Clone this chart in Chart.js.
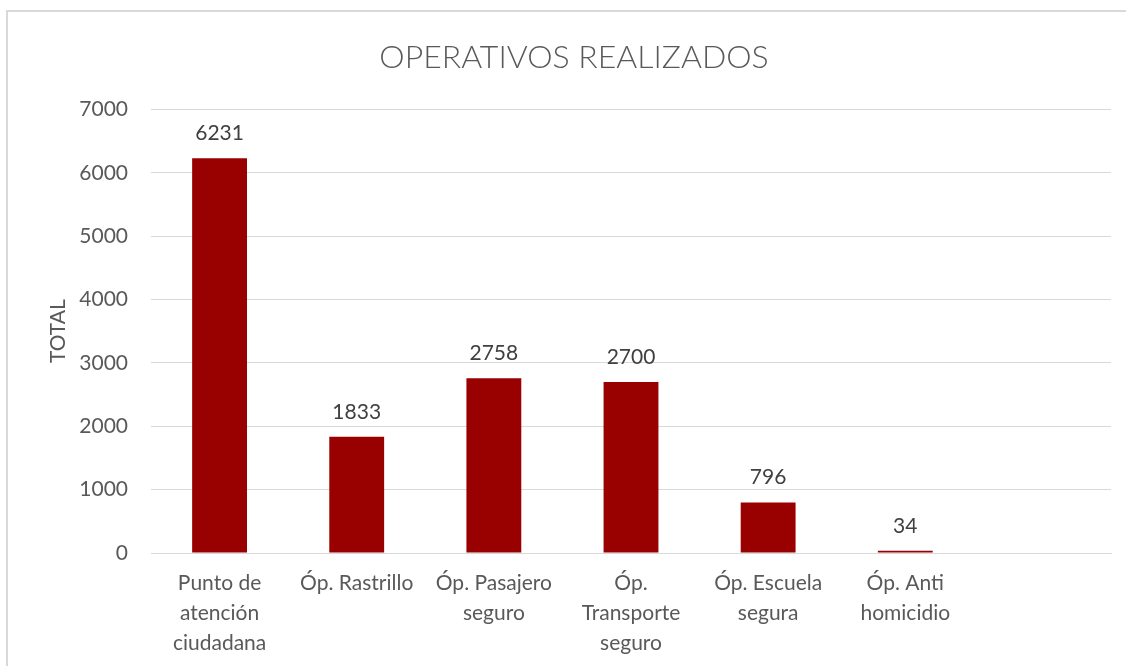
<!DOCTYPE html>
<html>
<head>
<meta charset="utf-8">
<script src="https://cdn.jsdelivr.net/npm/chart.js@4.4.0/dist/chart.umd.min.js"></script>
<style>
  html, body { margin: 0; padding: 0; background: #fff; }
  #wrap { position: relative; width: 1126px; height: 666px; }
</style>
</head>
<body>
<div id="wrap"><canvas id="myChart" width="1126" height="666"></canvas></div>
<script>
// data
var categories = [
    ['Punto de', 'atención', 'ciudadana'],
    'Óp. Rastrillo',
    ['Óp. Pasajero', 'seguro'],
    ['Óp.', 'Transporte', 'seguro'],
    ['Óp. Escuela', 'segura'],
    ['Óp. Anti', 'homicidio'],
    ''
];
var totals = [6231, 1833, 2758, 2700, 796, 34, null];
var yTicks = [0, 1000, 2000, 3000, 4000, 5000, 6000, 7000];

var textGrey = '#595959';
var gridGrey = '#d9d9d9';

// draws the frame around the chart and the value above each bar
var extras = {
    id: 'extras',
    beforeDraw: function (chart) {
        var ctx = chart.ctx;
        ctx.save();
        ctx.strokeStyle = gridGrey;
        ctx.lineWidth = 2;
        ctx.beginPath();
        ctx.moveTo(7, 666);
        ctx.lineTo(7, 11);
        ctx.lineTo(1126, 11);
        ctx.stroke();
        ctx.restore();
    },
    afterDatasetsDraw: function (chart) {
        var ctx = chart.ctx;
        var meta = chart.getDatasetMeta(0);
        ctx.save();
        ctx.font = '21px Lato';
        ctx.fillStyle = '#404040';
        ctx.textAlign = 'center';
        ctx.textBaseline = 'middle';
        meta.data.forEach(function (bar, i) {
            if (totals[i] == null) return;
            ctx.fillText(String(totals[i]), bar.x, bar.y - 25);
        });
        ctx.restore();
    }
};

var ctx = document.getElementById('myChart').getContext('2d');
var myChart = new Chart(ctx, {
    type: 'bar',
    data: {
        labels: categories,
        datasets: [{
            data: totals,
            backgroundColor: '#990000',
            categoryPercentage: 1,
            barPercentage: 0.4
        }]
    },
    options: {
        responsive: false,
        animation: false,
        layout: { padding: { left: 37, right: 15, top: 11, bottom: 0 } },
        plugins: {
            legend: { display: false },
            tooltip: { enabled: false },
            title: {
                display: true,
                text: 'OPERATIVOS REALIZADOS',
                color: textGrey,
                font: { family: 'Lato', size: 32, weight: '300', lineHeight: 1.2 },
                padding: { top: 27, bottom: 33 }
            }
        },
        scales: {
            x: {
                grid: { display: false, drawTicks: false },
                border: { color: gridGrey, width: 1 },
                ticks: {
                    color: textGrey,
                    font: { family: 'Lato', size: 21, lineHeight: '30px' },
                    padding: 15,
                    maxRotation: 0,
                    autoSkip: false
                },
                afterFit: function (scale) { scale.height = 113; }
            },
            y: {
                min: 0,
                max: 7000,
                afterBuildTicks: function (scale) {
                    scale.ticks = yTicks.map(function (v) { return { value: v }; });
                },
                grid: { color: gridGrey, drawTicks: false },
                border: { display: false },
                ticks: {
                    color: textGrey,
                    font: { family: 'Lato', size: 21 },
                    padding: 23,
                    callback: function (v) { return String(v); }
                },
                title: {
                    display: true,
                    text: 'TOTAL',
                    color: textGrey,
                    font: { family: 'Lato', size: 21 },
                    padding: { top: 9, bottom: 0 }
                },
                afterFit: function (scale) { scale.width = 114; }
            }
        }
    },
    plugins: [extras]
});
</script>
</body>
</html>
